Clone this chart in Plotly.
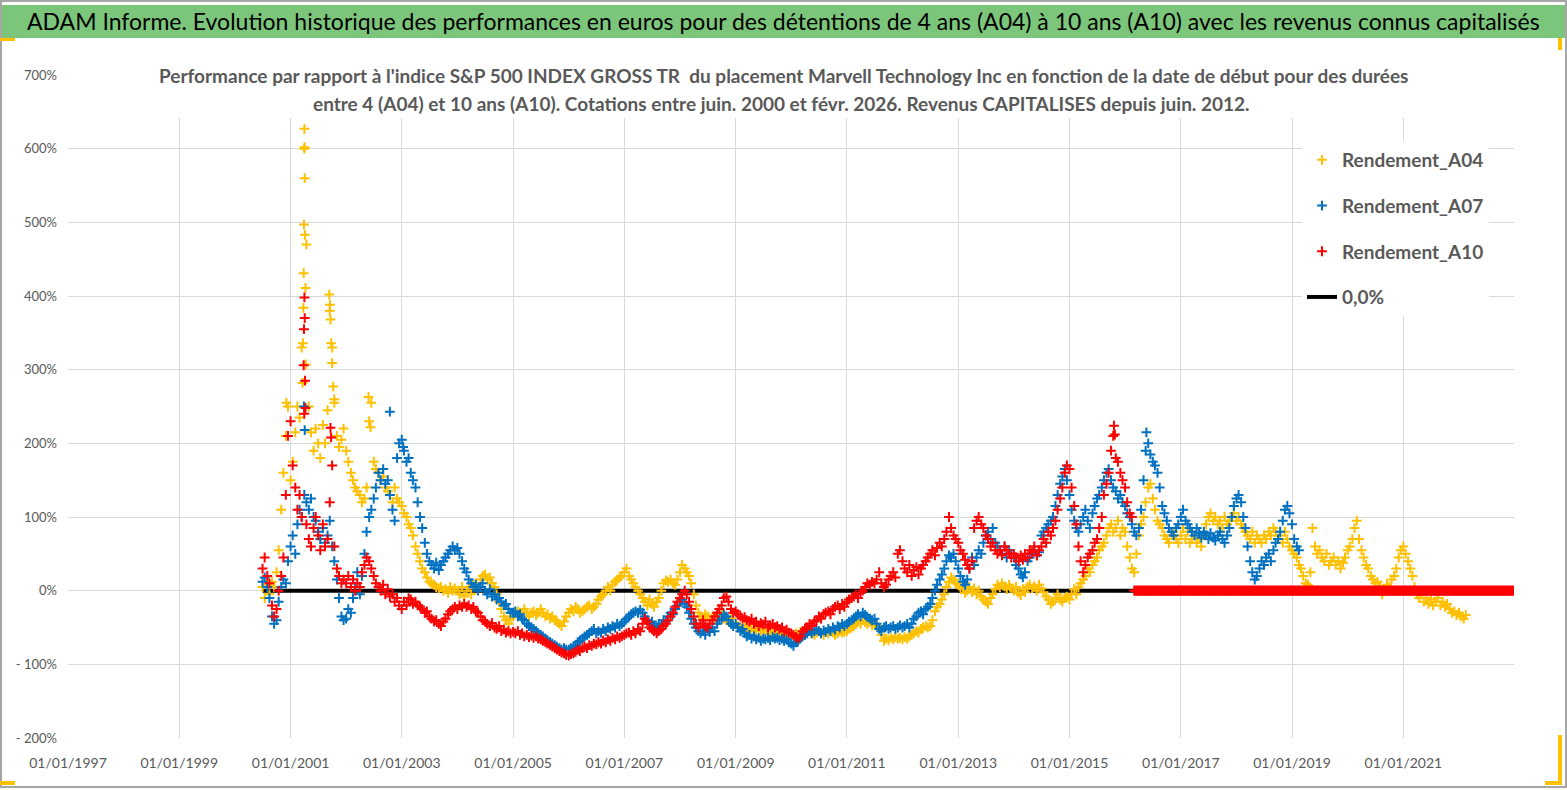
import plotly.graph_objects as go
import pandas as pd

# ---------------- DATA ----------------
# semi-monthly samples (1st and 15th of each month), values in %
gold_start = "2000-07-01"
gold_a04 = [
    # 2000 H2
    5, -10, 8, -5, 12, 5, 25, 55, 110, 160, 210, 250,
    # 2001
    150, 175, 215, 250, 235, 330, 600, 470, 250, 215, 190, 220, 200, 180, 225, 200, 245, 380, 330, 260, 210, 195, 205, 220,
    # 2002
    190, 175, 160, 150, 140, 135, 130, 120, 125, 140, 230, 255, 175, 165, 160, 150, 155, 140, 135, 130, 120, 140, 125, 120,
    # 2003
    115, 105, 100, 90, 85, 75, 60, 50, 40, 30, 25, 18, 12, 10, 8, 5, 3, 5, 0, 2, -3, 5, 0, 3,
    # 2004
    0, -5, 5, -8, 0, 5, -5, 8, 10, 5, 15, 20, 22, 15, 18, 10, 5, -5, -15, -25, -35, -40, -45, -38,
    # 2005
    -35, -30, -28, -32, -30, -25, -30, -35, -30, -28, -33, -30, -25, -30, -35, -32, -38, -35, -40, -42, -45, -48, -42, -35,
    # 2006
    -30, -25, -28, -22, -25, -30, -28, -25, -22, -20, -25, -22, -18, -12, -8, -5, 0, 5, 0, 8, 12, 15, 18, 20,
    # 2007
    25, 30, 20, 15, 10, 5, 0, -5, -10, -15, -20, -12, -18, -22, -15, -10, 0, 10, 14, 12, 15, 10, 8, 15,
    # 2008
    25, 35, 30, 25, 20, 10, -5, -20, -30, -35, -38, -32, -35, -40, -35, -38, -32, -35, -30, -38, -40, -42, -38, -45,
    # 2009
    -45, -48, -50, -52, -48, -55, -52, -50, -55, -53, -50, -55, -52, -55, -58, -55, -57, -60, -55, -58, -60, -57, -60, -62,
    # 2010
    -60, -62, -58, -60, -56, -58, -60, -57, -55, -58, -60, -57, -55, -58, -60, -56, -58, -55, -57, -60, -58, -55, -57, -56,
    # 2011
    -55, -52, -50, -48, -45, -42, -45, -40, -43, -45, -42, -47, -45, -48, -50, -60, -68, -65, -67, -64, -66, -63, -65, -64,
    # 2012
    -66, -63, -65, -62, -60, -58, -55, -57, -52, -50, -48, -50, -48, -40, -28, -22, -18, -12, -5, 5, 12, 18, 15, 10,
    # 2013
    8, 5, 2, -3, 0, 5, -2, 3, -5, 0, -8, -12, -15, -18, -10, -5, 2, 8, 5, 10, 6, 2, 8, 3,
    # 2014
    0, 5, -3, -6, 2, -2, 5, 8, 3, 6, 0, 8, 3, -2, -8, -12, -18, -15, -10, -5, -12, -15, -10, -8,
    # 2015
    -12, -5, 2, -5, 5, 10, 15, 20, 30, 25, 35, 40, 45, 55, 60, 65, 75, 85, 90, 80, 85, 95, 75, 85,
    # 2016
    80, 60, 45, 30, 25, 50, 75, 90, 100, 120, 140, 145, 125, 110, 95, 90, 85, 75, 70, 65, 75, 80, 70, 65,
    # 2017
    75, 85, 70, 80, 65, 70, 75, 65, 70, 60, 75, 90, 100, 105, 95, 100, 90, 95, 85, 100, 90, 95, 100, 105,
    # 2018
    95, 100, 90, 85, 80, 75, 70, 80, 65, 75, 70, 65, 75, 70, 80, 75, 85, 80, 70, 75, 65, 80, 70, 60,
    # 2019
    55, 50, 45, 35, 30, 20, 10, 8, 25, 85, 60, 50, 55, 45, 40, 50, 35, 40, 45, 35, 40, 30, 38, 45,
    # 2020
    55, 60, 70, 85, 95, 70, 55, 45, 35, 30, 20, 15, 10, 12, 5, -5, 0, 8, 5, 15, 20, 30, 45, 55,
    # 2021
    60, 50, 40, 30, 20, 5, -5, -10, -5, -15, -10, -18, -12, -20, -15, -10, -20, -15, -22, -18, -25, -30, -28, -33,
    # 2022
    -30, -35, -38, -33,
]
gold_extra_dates = ["2000-12-05", "2001-03-21", "2001-03-23", "2001-03-26", "2001-03-28", "2001-03-30",
                    "2001-04-02", "2001-04-03", "2001-04-04", "2001-04-05", "2001-04-09", "2001-04-11",
                    "2001-09-12", "2001-09-17", "2001-09-20", "2001-09-25", "2001-10-01", "2001-10-08",
                    "2001-10-15", "2002-05-28", "2002-06-10"]
gold_extra_vals = [255, 282, 336, 384, 431, 497, 627, 602, 560, 483, 411, 307,
                   402, 388, 368, 336, 309, 277, 255, 263, 222]

blue_start = "2000-07-01"
blue_a07 = [
    # 2000 H2
    12, 18, 5, -10, -35, -45, -40, -15, 5, 15, 10, 40,
    # 2001
    60, 75, 50, 90, 110, 100, 130, 120, 110, 125, 100, 95, 80, 70, 85, 65, 75, 95, 60, 40, 15, -10, -35, -40,
    # 2002
    -38, -25, -30, -10, 5, 25, -5, 20, 50, 80, 100, 110, 125, 140, 160, 150, 165, 145, 150, 130, 110, 95, 180, 200,
    # 2003
    205, 190, 175, 180, 160, 150, 140, 120, 100, 85, 65, 50, 40, 35, 30, 38, 28, 35, 40, 45, 50, 55, 60, 55,
    # 2004
    58, 50, 40, 30, 25, 15, 10, 5, 8, 0, 5, 10, 0, -5, 2, -8, -5, -12, -10, -15, -20, -18, -25, -30,
    # 2005
    -30, -28, -35, -32, -38, -40, -45, -48, -50, -52, -55, -58, -60, -62, -65, -68, -70, -72, -74, -76, -78, -80, -78, -80,
    # 2006
    -80, -78, -76, -74, -70, -68, -65, -62, -60, -58, -55, -52, -58, -55, -57, -52, -55, -50, -52, -48, -50, -45, -48, -45,
    # 2007
    -42, -38, -35, -32, -30, -28, -30, -26, -30, -35, -40, -45, -42, -48, -50, -45, -48, -40, -42, -35, -30, -32, -25, -20,
    # 2008
    -15, -12, -18, -22, -30, -38, -45, -50, -55, -58, -55, -60, -52, -56, -50, -55, -45, -40, -38, -32, -35, -40, -45, -48,
    # 2009
    -45, -50, -55, -52, -58, -62, -60, -65, -62, -66, -64, -68, -65, -66, -64, -67, -63, -65, -64, -67, -65, -68, -66, -70,
    # 2010
    -72, -75, -70, -68, -65, -62, -60, -58, -55, -58, -55, -52, -55, -58, -54, -56, -52, -55, -50, -53, -48, -50, -45, -48,
    # 2011
    -45, -42, -40, -38, -35, -32, -35, -30, -33, -36, -38, -40, -38, -45, -52, -55, -50, -48, -52, -50, -48, -52, -50, -47,
    # 2012
    -50, -48, -45, -50, -45, -38, -35, -30, -28, -32, -25, -22, -18, -10, 0, 8, 15, 22, 30, 40, 48, 45, 50, 40,
    # 2013
    30, 20, 12, 8, 15, 30, 45, 35, 45, 55, 50, 65, 75, 80, 70, 85, 65, 60, 55, 50, 60, 45, 55, 50,
    # 2014
    45, 35, 30, 22, 18, 25, 40, 45, 50, 55, 48, 52, 75, 80, 85, 90, 95, 100, 115, 130, 145, 155, 165, 150,
    # 2015
    130, 110, 95, 85, 80, 90, 100, 110, 95, 85, 105, 115, 125, 130, 140, 150, 160, 165, 150, 140, 135, 125, 130, 120,
    # 2016
    115, 105, 100, 90, 80, 75, 85, 110, 150, 190, 200, 185, 175, 170, 160, 140, 115, 105, 95, 85, 80, 75, 85, 90,
    # 2017
    100, 110, 95, 90, 85, 80, 75, 85, 78, 72, 80, 75, 70, 78, 72, 68, 75, 80, 70, 65, 75, 85, 100, 115,
    # 2018
    125, 130, 120, 100, 85, 60, 40, 25, 15, 20, 30, 40, 35, 45, 50, 40, 55, 65, 70, 80, 95, 110, 115, 105,
    # 2019
    90, 70, 60, 55,
]
blue_extra_dates = ["2001-03-30", "2001-04-04", "2002-10-15", "2003-01-10", "2016-05-20"]
blue_extra_vals = [250, 218, 243, 195, 215]

red_start = "2000-07-01"
red_a10 = [
    # 2000 H2
    30, 45, 20, 10, -20, -35, -25, 0, 20, 45, 130, 210,
    # 2001
    230, 170, 140, 110, 130, 100, 240, 90, 70, 60, 85, 100, 75, 55, 90, 60, 70, 120, 170, 60, 30, 20, 10, 15,
    # 2002
    10, 20, 5, 15, 0, 10, 5, 25, 35, 45, 40, 30, 20, 10, 5, 0, 8, -5, 2, -8, -5, -15, -10, -20,
    # 2003
    -25, -15, -20, -10, -12, -18, -15, -20, -22, -25, -30, -28, -35, -38, -42, -40, -45, -48, -42, -38, -32, -28, -25, -22,
    # 2004
    -25, -20, -22, -18, -22, -20, -25, -22, -28, -30, -35, -40, -42, -45, -48, -44, -50, -52, -48, -55, -53, -57, -55, -58,
    # 2005
    -56, -58, -55, -60, -58, -62, -60, -63, -61, -64, -62, -65, -66, -68, -70, -72, -74, -76, -78, -80, -82, -84, -85, -87,
    # 2006
    -88, -86, -85, -83, -80, -82, -78, -76, -78, -74, -75, -72, -73, -70, -72, -68, -70, -66, -68, -64, -66, -62, -64, -62,
    # 2007
    -60, -58, -57, -60, -55, -58, -52, -55, -45, -38, -42, -50, -52, -55, -58, -55, -52, -48, -45, -40, -35, -30, -22, -15,
    # 2008
    -10, -5, 0, -5, -15, -25, -35, -45, -50, -45, -40, -48, -50, -45, -40, -35, -30, -25, -20, -10, -8, -15, -25, -30,
    # 2009
    -28, -32, -35, -38, -36, -40, -42, -38, -45, -42, -48, -44, -46, -42, -50, -47, -45, -50, -48, -52, -50, -55, -53, -57,
    # 2010
    -58, -60, -63, -65, -62, -55, -52, -50, -45, -48, -42, -40, -35, -38, -32, -30, -28, -32, -25, -22, -20, -25, -18, -22,
    # 2011
    -15, -12, -10, -8, -5, -10, -3, 0, 5, 10, 8, 12, 10, 15, 25, 10, 5, 8, 15, 20, 25, 18, 50, 55,
    # 2012
    40, 30, 25, 35, 20, 28, 32, 22, 30, 35, 40, 45, 50, 55, 48, 58, 65, 60, 70, 80, 100, 85, 75, 70,
    # 2013
    65, 55, 50, 42, 35, 30, 40, 85, 95, 100, 90, 85, 75, 70, 60, 65, 55, 50, 55, 48, 60, 55, 50, 45,
    # 2014
    50, 45, 40, 48, 42, 50, 45, 55, 52, 60, 48, 55, 60, 70, 65, 80, 75, 85, 95, 110, 125, 140, 160, 170,
    # 2015
    165, 140, 115, 90, 60, 40, 25, 35, 45, 50, 55, 65, 70, 85, 100, 130, 145, 160, 190, 210, 180, 175, 160, 150,
    # 2016
    140, 120, 105, 100,
]
red_extra_dates = ["2001-03-28", "2001-03-30", "2001-04-02", "2001-04-04", "2001-04-06", "2001-04-09",
                   "2001-09-20", "2001-09-24", "2015-10-20", "2015-10-26"]
red_extra_vals = [306, 355, 398, 370, 285, 248, 221, 208, 224, 212]

# A10 has no value after March 2016: shown at 0 until the end of the axis
red_zero_start = "2016-03-01"
red_zero_end = "2022-12-25"

zero_line_dates = ["2000-07-01", "2016-03-01"]
zero_line_vals = [0, 0]

y_tick_vals = [-200, -100, 0, 100, 200, 300, 400, 500, 600, 700]
y_tick_text = ["- 200%", "- 100%", "0%", "100%", "200%", "300%", "400%", "500%", "600%", "700%"]
x_tick_years = [1997, 1999, 2001, 2003, 2005, 2007, 2009, 2011, 2013, 2015, 2017, 2019, 2021]

title_text = ("ADAM Informe. Evolution historique des performances en euros pour des détentions "
              "de 4 ans (A04) à 10 ans (A10) avec les revenus connus capitalisés")
sub1 = ("Performance par rapport à l'indice S&P 500 INDEX GROSS TR  du placement Marvell Technology Inc "
        "en fonction de la date de début pour des durées")
sub2 = ("entre 4 (A04) et 10 ans (A10). Cotations entre juin. 2000 et févr. 2026. "
        "Revenus CAPITALISES depuis juin. 2012.")

# ---------------- FIGURE ----------------
W, H = 1567, 790
ML, MR, MT, MB = 68, 53, 75, 52
PW, PH = W - ML - MR, H - MT - MB


def fx(px):
    return (px - ML) / PW


def fy(py):
    return (H - MB - py) / PH


FONT = "Lato, 'Liberation Sans', sans-serif"
GRAY = "#595959"
GOLD, BLUE, RED = "#FFC000", "#0070C0", "#FF0000"


def mk(color):
    return dict(symbol="cross-thin", size=7, color=color, line=dict(color=color, width=2))


def series_x(start, vals, extra_dates):
    d = list(pd.date_range(start, periods=len(vals), freq="SMS").strftime("%Y-%m-%d"))
    return d + list(extra_dates)


fig = go.Figure()

fig.add_trace(go.Scatter(x=zero_line_dates, y=zero_line_vals, mode="lines", name="0,0%",
                         line=dict(color="black", width=4), legendgroup="z", legendrank=4,
                         hoverinfo="skip"))
fig.add_trace(go.Scatter(x=series_x(gold_start, gold_a04, gold_extra_dates),
                         y=gold_a04 + gold_extra_vals, mode="markers", name="Rendement_A04",
                         marker=mk(GOLD), legendgroup="a04", legendrank=1))
fig.add_trace(go.Scatter(x=series_x(blue_start, blue_a07, blue_extra_dates),
                         y=blue_a07 + blue_extra_vals, mode="markers", name="Rendement_A07",
                         marker=mk(BLUE), legendgroup="a07", legendrank=2))
fig.add_trace(go.Scatter(x=series_x(red_start, red_a10, red_extra_dates),
                         y=red_a10 + red_extra_vals, mode="markers", name="Rendement_A10",
                         marker=mk(RED), legendgroup="a10", legendrank=3))
red_zero_dates = list(pd.date_range(red_zero_start, red_zero_end, freq="5D").strftime("%Y-%m-%d"))
fig.add_trace(go.Scatter(x=red_zero_dates, y=[0] * len(red_zero_dates), mode="markers",
                         name="Rendement_A10", marker=mk(RED), legendgroup="a10", showlegend=False))

fig.update_layout(
    width=W, height=H,
    margin=dict(l=ML, r=MR, t=MT, b=MB, pad=0),
    paper_bgcolor="white", plot_bgcolor="white",
    font=dict(family=FONT, color=GRAY),
    showlegend=True,
    legend=dict(x=fx(1302), y=fy(141), xanchor="left", yanchor="top",
                bgcolor="white", borderwidth=0, tracegroupgap=18,
                font=dict(family=FONT, size=19, color=GRAY, weight="bold"),
                itemwidth=30),
    xaxis=dict(type="date", range=["1997-01-01", "2022-12-28"],
               tickvals=[f"{y}-01-01" for y in x_tick_years],
               ticktext=[f"01/01/{y}" for y in x_tick_years],
               showgrid=True, gridcolor="#D9D9D9", gridwidth=1, zeroline=False,
               showline=False, ticks="", ticklabelstandoff=15,
               tickfont=dict(family=FONT, size=14, color=GRAY)),
    yaxis=dict(range=[-200, 700], tickvals=y_tick_vals, ticktext=y_tick_text,
               showgrid=True, gridcolor="#D9D9D9", gridwidth=1, zeroline=False,
               showline=False, ticks="", ticklabelstandoff=10,
               tickfont=dict(family=FONT, size=13, color=GRAY)),
    shapes=[
        # outer chart border
        dict(type="rect", xref="paper", yref="paper", x0=fx(1), x1=fx(W - 1), y0=fy(H - 3), y1=fy(1),
             line=dict(color="#A6A6A6", width=2), fillcolor="rgba(0,0,0,0)", layer="above"),
        # green banner
        dict(type="rect", xref="paper", yref="paper", x0=fx(2), x1=fx(W - 2), y0=fy(38), y1=fy(5),
             line=dict(width=0), fillcolor="#7CC67B", layer="above"),
        # white box behind the subtitle
        dict(type="rect", xref="paper", yref="paper", x0=fx(155), x1=fx(1412), y0=fy(118), y1=fy(62),
             line=dict(width=0), fillcolor="white", layer="above"),
        # small yellow marks
        dict(type="rect", xref="paper", yref="paper", x0=fx(0), x1=fx(15), y0=fy(41), y1=fy(38),
             line=dict(width=0), fillcolor="#FFC000", layer="above"),
        dict(type="rect", xref="paper", yref="paper", x0=fx(0), x1=fx(15), y0=fy(785), y1=fy(781),
             line=dict(width=0), fillcolor="#FFC000", layer="above"),
        dict(type="rect", xref="paper", yref="paper", x0=fx(1558), x1=fx(1562), y0=fy(785), y1=fy(735),
             line=dict(width=0), fillcolor="#FFC000", layer="above"),
        dict(type="rect", xref="paper", yref="paper", x0=fx(1545), x1=fx(1562), y0=fy(785), y1=fy(781),
             line=dict(width=0), fillcolor="#FFC000", layer="above"),
        dict(type="rect", xref="paper", yref="paper", x0=fx(1558), x1=fx(1562), y0=fy(50), y1=fy(38),
             line=dict(width=0), fillcolor="#FFC000", layer="above"),
    ],
    annotations=[
        dict(xref="paper", yref="paper", x=fx(783), y=fy(21), xanchor="center", yanchor="middle",
             text=title_text, showarrow=False,
             font=dict(family=FONT, size=23, color="black")),
        dict(xref="paper", yref="paper", x=fx(783), y=fy(75), xanchor="center", yanchor="middle",
             text=sub1, showarrow=False,
             font=dict(family=FONT, size=19, color=GRAY, weight="bold")),
        dict(xref="paper", yref="paper", x=fx(781), y=fy(104), xanchor="center", yanchor="middle",
             text=sub2, showarrow=False,
             font=dict(family=FONT, size=19, color=GRAY, weight="bold")),
    ],
)

fig.write_html("out.html", config={"displayModeBar": False},
               post_script="document.body.style.margin='0';")
